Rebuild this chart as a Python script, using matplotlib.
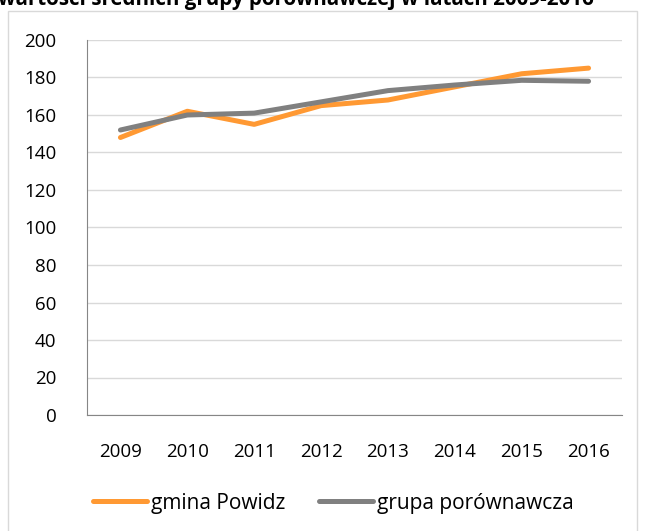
import matplotlib.pyplot as plt
from matplotlib.patches import Rectangle

# dane
lata = ["2009", "2010", "2011", "2012", "2013", "2014", "2015", "2016"]
gmina = [148, 162, 155, 165, 168, 175, 182, 185]
grupa = [152, 160, 161, 167, 173, 176, 178.5, 178]
etykiety = ["gmina Powidz", "grupa porównawcza"]
tytul = "wartości średnich grupy porównawczej w latach 2009-2016"

plt.rcParams['font.family'] = ['Open Sans', 'DejaVu Sans']

fig = plt.figure(figsize=(6.49, 5.31), dpi=100)
ax = fig.add_axes([87/649, 116/531, 535/649, 375/531])

# ramka wykresu
fig.patches.append(Rectangle((8/649, -0.1), 629/649, 1.1 - 11/531, transform=fig.transFigure,
                             fill=False, edgecolor="#d9d9d9", linewidth=1))

x = range(len(lata))
ax.plot(x, gmina, color="#ff9933", lw=3.6, label=etykiety[0], solid_capstyle="round")
ax.plot(x, grupa, color="#808080", lw=3.6, label=etykiety[1], solid_capstyle="round")

ax.set_xlim(-0.5, len(lata) - 0.5)
ax.set_ylim(0, 200)
ax.set_yticks(range(0, 201, 20))
ax.set_xticks(list(x))
ax.set_xticklabels(lata)
ax.grid(axis="y", color="#d9d9d9", lw=1)
ax.set_axisbelow(True)
for s in ["top", "right"]:
    ax.spines[s].set_visible(False)
ax.spines["left"].set_color("#868686")
ax.spines["bottom"].set_color("#868686")
ax.tick_params(length=0, labelsize=13.5, colors="black")
ax.tick_params(axis="y", pad=22)
ax.tick_params(axis="x", pad=20)

fig.text(-0.003, 1 - 5/531, tytul, fontsize=14.8, fontweight="bold", va="baseline", ha="left")

fig.legend(loc="center", bbox_to_anchor=(0.514, 28/531), ncol=2, frameon=False,
           fontsize=15, handlelength=2.6, handletextpad=0.2, columnspacing=1.6)

fig.savefig("out.png", dpi=100)
